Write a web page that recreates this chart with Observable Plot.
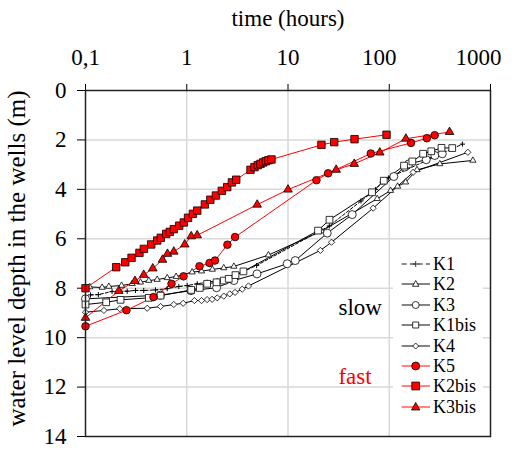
<!DOCTYPE html>
<html><head><meta charset="utf-8">
<script src="https://cdn.jsdelivr.net/npm/d3@7"></script>
<script src="https://cdn.jsdelivr.net/npm/@observablehq/plot@0.6"></script>
<style>
body{margin:0;background:#fff;}
#wrap{position:relative;width:515px;height:449px;font-family:"Liberation Serif","Times New Roman",serif;}
#wrap svg{display:block;}
#legend{position:absolute;left:393px;top:252px;width:90px;height:170px;background:#fff;}
.row{position:absolute;left:0;width:90px;height:20px;font-size:18px;line-height:20px;}
.row svg{position:absolute;left:0;top:0;}
.row span{position:absolute;left:40px;top:0;}
</style></head><body><div id="wrap"><div id="legend"></div></div>
<script>
// ---- axis ticks ----
const xTicks = [0.1, 1, 10, 100, 1000];
const xTickLabels = ["0,1", "1", "10", "100", "1000"];
const yTicks = [0, 2, 4, 6, 8, 10, 12, 14];
const xTitle = "time (hours)";
const yTitle = "water level depth in the wells (m)";

// ---- series (time in hours, depth in m) ----
const K1_t = [0.112,0.134,0.183,0.258,0.312,0.376,0.491,0.641,0.835,1.01,1.27,1.59,2.0,2.5,4.9,25.6,52.6,73.2,85,98,528];
const K1_d = [8.27,8.26,8.13,8.12,8.09,8.09,8.07,8.02,7.93,7.89,7.82,7.76,7.69,7.62,7.08,5.48,4.47,4.01,3.71,3.54,2.17];

const K2_t = [0.11,0.146,0.17,0.227,0.289,0.349,0.422,0.51,0.641,0.786,1.13,1.40,1.79,2.32,2.92,6.4,21.4,76,103,121,145,188,316,670];
const K2_d = [7.95,7.97,7.93,7.89,7.82,7.76,7.69,7.65,7.58,7.53,7.35,7.31,7.24,7.18,7.12,6.66,5.69,4.38,4.05,3.88,3.71,3.21,2.97,2.83];

const K3_t = [0.1,0.55,1.1,1.97,2.92,4.94,9.82,11.8,24.4,43.1,111,142,156,232,282,334];
const K3_d = [8.43,8.28,8.1,7.98,7.69,7.42,7.01,6.88,5.77,5.02,3.48,3.10,2.97,2.80,2.63,2.56];

const K1bis_t = [0.1,0.16,0.222,0.422,0.551,1.107,1.345,1.59,1.97,2.32,2.6,3.03,3.63,19.8,25.7,67.6,88.3,140,169,216,260,328,419];
const K1bis_d = [8.66,8.57,8.47,8.39,8.30,8.07,7.99,7.82,7.76,7.69,7.62,7.47,7.32,5.67,5.23,4.12,3.65,3.04,2.87,2.56,2.46,2.32,2.33];

const K4_t = [0.1,0.152,0.218,0.407,0.551,0.745,0.922,1.19,1.40,1.59,1.78,2.0,2.32,2.66,3.0,3.53,4.07,20.9,26.9,69.4,172,597];
const K4_d = [8.97,8.90,8.83,8.81,8.74,8.66,8.61,8.50,8.50,8.46,8.45,8.39,8.32,8.23,8.17,8.04,7.91,6.47,6.14,4.76,3.31,2.50];

const K5_t = [0.1,0.254,0.469,0.707,0.929,1.336,1.68,1.90,2.52,3.00,19.1,24.9,65.7,164,235,281];
const K5_d = [9.54,8.89,8.36,7.82,7.52,7.11,6.98,6.88,6.24,5.93,3.63,3.35,2.55,2.12,1.93,1.81];

const K2bis_t = [0.1,0.201,0.247,0.285,0.341,0.377,0.446,0.511,0.554,0.627,0.680,0.745,0.842,0.935,1.03,1.15,1.27,1.51,1.71,1.94,2.22,2.51,2.79,3.08,4.26,4.67,5.03,5.35,5.69,6.04,6.42,6.87,21.4,28.6,45.4,94];
const K2bis_d = [8.0,7.15,6.95,6.77,6.57,6.41,6.23,6.07,5.96,5.80,5.72,5.61,5.47,5.34,5.15,4.99,4.86,4.61,4.42,4.25,4.06,3.91,3.72,3.61,3.21,3.10,3.02,2.97,2.91,2.86,2.82,2.79,2.20,2.09,1.97,1.79];

const K3bis_t = [0.1,0.213,0.308,0.376,0.462,0.576,0.645,0.745,0.955,1.107,1.268,4.96,10.0,29.9,45.1,80.7,146,394];
const K3bis_d = [9.20,8.11,7.71,7.46,7.20,6.85,6.61,6.52,6.23,5.90,5.86,4.62,4.01,3.21,2.97,2.51,1.95,1.68];

// annotations
const notes = [
  {t: 31.5, d: 8.78, text: "slow", color: "#000"},
  {t: 31.5, d: 11.57, text: "fast", color: "#ff0000"}
];

// ---- styles per series ----
const RED = "#ff0000";
const series = [
  {name: "K1",    t: K1_t,    d: K1_d,    line: "#000", symbol: "plus",     r: 1.8, fill: "none", dash: "3,2"},
  {name: "K2",    t: K2_t,    d: K2_d,    line: "#000", symbol: "triangle", r: 2.3, fill: "#fff"},
  {name: "K3",    t: K3_t,    d: K3_d,    line: "#000", symbol: "circle",   r: 4,   fill: "#fff"},
  {name: "K1bis", t: K1bis_t, d: K1bis_d, line: "#000", symbol: "square",   r: 3.8, fill: "#fff"},
  {name: "K4",    t: K4_t,    d: K4_d,    line: "#000", symbol: "diamond2", r: 2.8, fill: "#fff"},
  {name: "K5",    t: K5_t,    d: K5_d,    line: RED,    symbol: "circle",   r: 3.8, fill: RED},
  {name: "K2bis", t: K2bis_t, d: K2bis_d, line: RED,    symbol: "square",   r: 4.2, fill: RED},
  {name: "K3bis", t: K3bis_t, d: K3bis_d, line: RED,    symbol: "triangle", r: 3.2, fill: RED}
];

const marks = [
  Plot.ruleX(xTicks.slice(1, -1), {stroke: "#d9d9d9", strokeWidth: 1.5}),
  Plot.ruleY(yTicks.slice(1, -1), {stroke: "#d9d9d9", strokeWidth: 1.5})
];
for (const s of series) {
  const rows = s.t.map((t, i) => ({t, d: s.d[i]}));
  marks.push(Plot.line(rows, {x: "t", y: "d", stroke: s.line, strokeWidth: 1, strokeDasharray: s.dash || null}));
}
for (const s of series) {
  const rows = s.t.map((t, i) => ({t, d: s.d[i]}));
  marks.push(Plot.dot(rows, {x: "t", y: "d", symbol: s.symbol, r: s.r, fill: s.fill,
    stroke: "#000", strokeWidth: s.symbol === "plus" ? 1 : 0.8}));
}
marks.push(Plot.frame({stroke: "#222", strokeWidth: 1.5}));
// top tick labels
const xl = xTicks.map((v, i) => ({v, label: xTickLabels[i]}));
marks.push(Plot.text(xl.slice(0, 3), {x: "v", text: "label", frameAnchor: "top", dy: -26, lineAnchor: "bottom", fontSize: 23}));
marks.push(Plot.text(xl.slice(3, 4), {x: "v", text: "label", frameAnchor: "top", dy: -26, dx: -10, lineAnchor: "bottom", fontSize: 23}));
marks.push(Plot.text(xl.slice(4), {x: "v", text: "label", frameAnchor: "top", dy: -26, dx: -12, lineAnchor: "bottom", fontSize: 23}));
marks.push(Plot.text([xTitle], {text: d => d, frameAnchor: "top", dy: -65, lineAnchor: "bottom", textAnchor: "middle", fontSize: 23}));
marks.push(Plot.text([yTitle], {text: d => d, frameAnchor: "left", rotate: -90, dx: -69, dy: -5, textAnchor: "middle", lineAnchor: "middle", fontSize: 25}));
marks.push(Plot.text(notes, {x: "t", y: "d", text: "text", fill: "color", textAnchor: "start", lineAnchor: "middle", fontSize: 23}));

const chart = Plot.plot({
  width: 515,
  height: 449,
  marginLeft: 85,
  marginRight: 25,
  marginTop: 90,
  marginBottom: 13,
  style: {fontFamily: '"Liberation Serif","Times New Roman",serif', fontSize: "23px", background: "#fff", color: "#000"},
  x: {type: "log", domain: [0.1, 1000], axis: "top", ticks: xTicks, tickSize: 7, tickFormat: () => "", label: null},
  y: {domain: [0, 14], reverse: true, ticks: yTicks, tickSize: 8, tickPadding: 11, label: null},
  marks
});
const wrap = document.getElementById("wrap");
wrap.insertBefore(chart, wrap.firstChild);

// ---- legend ----
const legend = document.getElementById("legend");
const symPath = {
  plus: "M-3,0H3M0,-3V3",
  triangle: "M0,-3.5L3.2,2.3L-3.2,2.3Z",
  circle: null,
  square: "M-3,-3H3V3H-3Z",
  diamond2: "M0,-3L3,0L0,3L-3,0Z"
};
series.forEach((s, i) => {
  const row = document.createElement("div");
  row.className = "row";
  row.style.top = (2 + i * 20.4) + "px";
  const big = s.line === RED;
  const k = big ? 1.3 : 1;
  let marker;
  if (s.symbol === "circle") marker = `<circle cx="22.7" cy="10" r="${big ? 4 : 3.5}" fill="${s.fill}" stroke="#000" stroke-width="0.8"/>`;
  else marker = `<path transform="translate(22.7,10) scale(${k})" d="${symPath[s.symbol]}" fill="${s.fill}" stroke="#000" stroke-width="${0.8 / k}"/>`;
  row.innerHTML = `<svg width="40" height="20"><line x1="8.7" x2="37" y1="10" y2="10" stroke="${s.line === RED ? '#ff6666' : '#666'}" stroke-width="1.6" ${s.dash ? 'stroke-dasharray="5,3"' : ''}/>${marker}</svg><span>${s.name}</span>`;
  legend.appendChild(row);
});
</script></body></html>
